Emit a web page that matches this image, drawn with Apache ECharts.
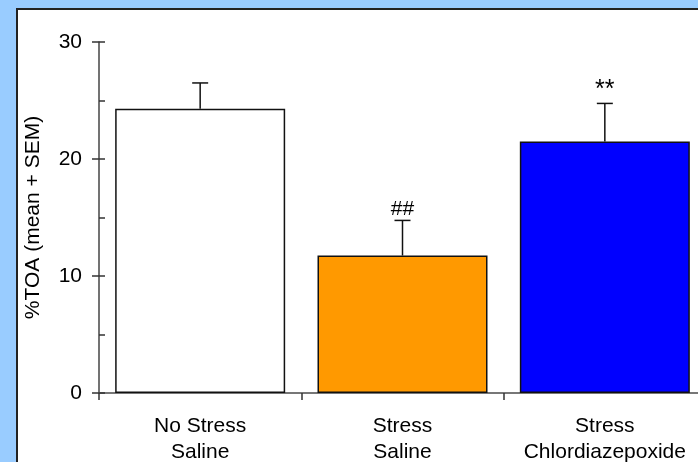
<!DOCTYPE html>
<html>
<head>
<meta charset="utf-8">
<script src="https://cdn.jsdelivr.net/npm/echarts@6/dist/echarts.min.js"></script>
<style>
  html, body { margin: 0; padding: 0; background: #99CCFF; overflow: hidden; }
  /* canvas is a little wider than the window; the plot runs off the right edge */
  #chart { width: 706px; height: 462px; }
</style>
</head>
<body>
<div id="chart"></div>
<script>
// Group labels (two lines each), group means, SEM and significance marks
const categories = ['No Stress\nSaline', 'Stress\nSaline', 'Stress\nChlordiazepoxide'];
const means = [24.3, 11.75, 21.5];
const sems = [2.2, 3.0, 3.25];
const sigMarks = ['', '##', '**'];
const barColors = ['#FFFFFF', '#FF9900', '#0000FF'];
const yTicks = [0, 10, 20, 30];

const FONT = '"Liberation Sans", Arial, sans-serif';
const chart = echarts.init(document.getElementById('chart'));

const errorData = means.map((m, i) => [i, m, m + sems[i], sigMarks[i]]);

chart.setOption({
  backgroundColor: '#99CCFF',
  animation: false,
  textStyle: { fontFamily: FONT },
  graphic: [{
    type: 'rect',
    z: -10,
    silent: true,
    shape: { x: 17, y: 9, width: 720, height: 480 },
    style: { fill: '#FFFFFF', stroke: '#222222', lineWidth: 2 }
  }],
  grid: {
    left: 99, top: 42, right: 0, height: 351,
    containLabel: false, outerBoundsMode: 'none'
  },
  xAxis: {
    type: 'category',
    data: categories,
    axisLine: { lineStyle: { color: '#777777', width: 2 } },
    axisTick: { show: true, length: 7, lineStyle: { color: '#333333', width: 1.5 } },
    axisLabel: {
      interval: 0,
      color: '#000000', fontSize: 21, lineHeight: 26, margin: 20, fontFamily: FONT
    }
  },
  yAxis: [{
    type: 'value',
    min: yTicks[0],
    max: yTicks[yTicks.length - 1],
    interval: 10,
    name: '%TOA (mean + SEM)',
    nameLocation: 'middle',
    nameGap: 55,
    nameRotate: 90,
    nameTextStyle: { color: '#000000', fontSize: 21, fontFamily: FONT },
    axisLine: { show: true, lineStyle: { color: '#444444', width: 1.5 } },
    axisTick: { show: true, length: 7, lineStyle: { color: '#333333', width: 1.5 } },
    axisLabel: { color: '#000000', fontSize: 21, margin: 17, fontFamily: FONT },
    splitLine: { show: false }
  }, {
    // inner ticks every 5 units on the same scale
    type: 'value',
    position: 'left',
    min: 0,
    max: 30,
    interval: 5,
    axisLine: { show: false },
    axisTick: { show: true, inside: true, length: 6, lineStyle: { color: '#333333', width: 1.5 } },
    axisLabel: { show: false },
    splitLine: { show: false }
  }],
  series: [{
    type: 'bar',
    barWidth: 170,
    data: means.map((v, i) => ({
      value: v,
      itemStyle: { color: barColors[i], borderColor: '#111111', borderWidth: 1.5 }
    })),
    z: 2
  }, {
    type: 'custom',
    z: 3,
    data: errorData,
    encode: { x: 0, y: [1, 2] },
    renderItem: function (params, api) {
      const x = api.value(0);
      const base = api.coord([x, api.value(1)]);
      const top = api.coord([x, api.value(2)]);
      const capHalf = 8;
      const style = { stroke: '#111111', lineWidth: 1.5 };
      const children = [
        { type: 'line', shape: { x1: base[0], y1: base[1], x2: top[0], y2: top[1] }, style: style },
        { type: 'line', shape: { x1: top[0] - capHalf, y1: top[1], x2: top[0] + capHalf, y2: top[1] }, style: style }
      ];
      const mark = sigMarks[params.dataIndex];
      if (mark) {
        // asterisks sit small in the font, so they get a larger size
        const size = mark.indexOf('*') >= 0 ? 25 : 21;
        children.push({
          type: 'text',
          style: {
            text: mark, x: top[0], y: top[1] - 1,
            align: 'center', verticalAlign: 'bottom',
            fill: '#000000', font: size + 'px ' + FONT
          }
        });
      }
      return { type: 'group', children: children };
    }
  }]
});
</script>
</body>
</html>
